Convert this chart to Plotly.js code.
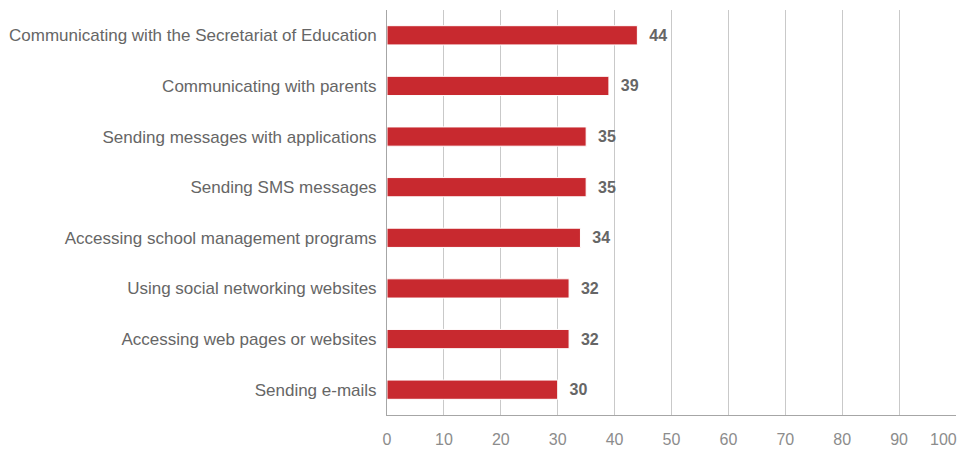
<!DOCTYPE html>
<html>
<head>
<meta charset="utf-8">
<script src="https://cdn.plot.ly/plotly-3.0.1.min.js"></script>
<style>html,body{margin:0;padding:0;background:#fff}#chart{width:964px;height:450px}</style>
</head>
<body>
<div id="chart"></div>
<script>
// Uses of ICT by school staff, percentage
const categories = [
  "Communicating with the Secretariat of Education",
  "Communicating with parents",
  "Sending messages with applications",
  "Sending SMS messages",
  "Accessing school management programs",
  "Using social networking websites",
  "Accessing web pages or websites",
  "Sending e-mails"
];
const values = [44, 39, 35, 35, 34, 32, 32, 30];
const xTicks = [0, 10, 20, 30, 40, 50, 60, 70, 80, 90, 100];

// pad the value labels a little away from the bar ends
const pad = "\u00a0\u00a0";
const lastTick = xTicks[xTicks.length - 1];
// the last axis label is drawn right-aligned so it stays on the page
const tickText = xTicks.map(v => v === lastTick ? "" : String(v));

const tickFont = {family: "Liberation Sans, Arial, sans-serif", size: 16, color: "#8c8c8c"};

const trace = {
  type: "bar",
  orientation: "h",
  y: categories,
  x: values,
  text: values.map(v => pad + v),
  textposition: "outside",
  cliponaxis: false,
  textfont: {family: "Liberation Sans, Arial, sans-serif", size: 16, color: "#666666", weight: "bold"},
  marker: {color: "#C8292F", line: {color: "#ffffff", width: 1}},
  width: 0.38,
  hoverinfo: "x+y"
};

const layout = {
  width: 964, height: 450,
  margin: {l: 387, r: 8, t: 10, b: 35},
  paper_bgcolor: "#ffffff", plot_bgcolor: "#ffffff",
  showlegend: false,
  font: {family: "Liberation Sans, Arial, sans-serif"},
  xaxis: {
    range: [0, 100], tickvals: xTicks, ticktext: tickText,
    showgrid: true, gridcolor: "#c9c9c9", gridwidth: 1,
    showline: true, linecolor: "#a6a6a6", linewidth: 1,
    zeroline: false, ticks: "", ticklen: 0,
    ticklabelstandoff: 10,
    tickfont: tickFont, fixedrange: true
  },
  yaxis: {
    autorange: "reversed", categoryorder: "array", categoryarray: categories,
    showline: true, linecolor: "#a6a6a6", linewidth: 1,
    showgrid: false, ticks: "", ticklen: 0,
    ticklabelstandoff: 6,
    tickfont: {size: 17, color: "#666666"}, fixedrange: true
  },
  annotations: [{
    x: lastTick, xref: "x", y: 0, yref: "paper",
    text: String(lastTick), showarrow: false,
    xanchor: "right", yanchor: "top", xshift: 3, yshift: -14,
    font: tickFont
  }]
};

Plotly.newPlot("chart", [trace], layout, {displayModeBar: false, staticPlot: true});
</script>
</body>
</html>
